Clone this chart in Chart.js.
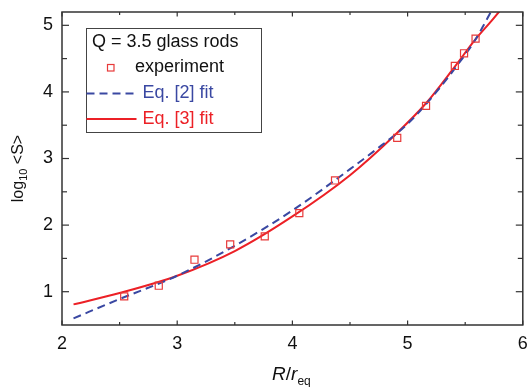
<!DOCTYPE html>
<html>
<head>
<meta charset="utf-8">
<script src="https://cdn.jsdelivr.net/npm/chart.js@4.4.0/dist/chart.umd.min.js"></script>
<style>
  html, body { margin: 0; padding: 0; background: #fff; }
</style>
</head>
<body>
<canvas id="rodsChart" width="529" height="387"></canvas>
<script>
// Dados

var expX = [2.54, 2.84, 3.15, 3.46, 3.76, 4.06, 4.37, 4.91, 5.16, 5.41, 5.49, 5.59];
var expY = [0.93, 1.09, 1.48, 1.71, 1.83, 2.18, 2.67, 3.31, 3.79, 4.39, 4.58, 4.80];

var eq2X = [2.1, 2.5, 3.0, 3.5, 4.0, 4.5, 4.7, 5.0, 5.25, 5.5, 5.58, 5.65, 5.8];
var eq2Y = [0.60, 0.89, 1.24, 1.69, 2.22, 2.84, 3.10, 3.52, 4.00, 4.56, 4.76, 4.97, 5.45];

var eq3X = [2.1, 2.5, 3.0, 3.5, 4.0, 4.5, 4.87, 5.16, 5.41, 5.58, 5.73, 5.85];
var eq3Y = [0.81, 0.98, 1.24, 1.61, 2.13, 2.75, 3.32, 3.83, 4.38, 4.77, 5.07, 5.32];

var xTicks = [2, 3, 4, 5, 6];
var xMinor = [2.5, 3.5, 4.5, 5.5];
var yTicks = [1, 2, 3, 4, 5];
var yMinor = [1.5, 2.5, 3.5, 4.5];

var legendTitle = 'Q = 3.5 glass rods';
var legendLabels = ['experiment', 'Eq. [2] fit', 'Eq. [3] fit'];

var FONTE = "'Liberation Sans', Arial, sans-serif";
var VERMELHO = 'rgb(236, 32, 38)';
var AZUL = 'rgb(58, 72, 162)';
var QUADRADO = 'rgb(232, 58, 58)';

function pontos(xs, ys) {
  return xs.map(function (x, i) { return { x: x, y: ys[i] }; });
}

// Moldura, ticks internos, títulos e legenda

function linha(ctx, x1, y1, x2, y2) {
  ctx.beginPath();
  ctx.moveTo(x1, y1);
  ctx.lineTo(x2, y2);
  ctx.stroke();
}

var molduraPlugin = {
  id: 'moldura',
  afterDraw: function (chart) {
    var ctx = chart.ctx;
    var area = chart.chartArea;
    var sx = chart.scales.x;
    var sy = chart.scales.y;

    ctx.save();
    ctx.strokeStyle = '#333';
    ctx.lineWidth = 1.5;
    ctx.strokeRect(area.left, area.top, area.right - area.left, area.bottom - area.top);

    ctx.lineWidth = 1.2;
    xTicks.concat(xMinor).forEach(function (v) {
      var px = sx.getPixelForValue(v);
      var len = xTicks.indexOf(v) >= 0 ? 4.5 : 3;
      linha(ctx, px, area.bottom, px, area.bottom - len);
      linha(ctx, px, area.top, px, area.top + len);
    });
    yTicks.concat(yMinor).forEach(function (v) {
      var py = sy.getPixelForValue(v);
      var len = yTicks.indexOf(v) >= 0 ? 7 : 5;
      linha(ctx, area.left, py, area.left + len, py);
      linha(ctx, area.right, py, area.right - len, py);
    });

    // título do eixo y: log10 <S>
    ctx.fillStyle = '#111';
    ctx.textBaseline = 'alphabetic';
    ctx.translate(23, (area.top + area.bottom) / 2);
    ctx.rotate(-Math.PI / 2);
    ctx.font = '16px ' + FONTE;
    var w1 = ctx.measureText('log').width;
    var w3 = ctx.measureText(' <S>').width;
    ctx.font = '11px ' + FONTE;
    var w2 = ctx.measureText('10').width;
    var ini = -(w1 + w2 + w3) / 2;
    ctx.font = '16px ' + FONTE;
    ctx.fillText('log', ini, 0);
    ctx.fillText(' <S>', ini + w1 + w2, 0);
    ctx.font = '11px ' + FONTE;
    ctx.fillText('10', ini + w1, 4);
    ctx.restore();

    // título do eixo x: R/r_eq
    ctx.save();
    ctx.fillStyle = '#111';
    ctx.textBaseline = 'alphabetic';
    ctx.font = 'italic 19px ' + FONTE;
    var a = ctx.measureText('R').width;
    var b = ctx.measureText('/').width;
    var c = ctx.measureText('r').width;
    ctx.font = '12px ' + FONTE;
    var d = ctx.measureText('eq').width;
    var cx = (area.left + area.right) / 2 - 1;
    var x0 = cx - (a + b + c + d) / 2;
    ctx.font = 'italic 19px ' + FONTE;
    ctx.fillText('R', x0, 380);
    ctx.font = '19px ' + FONTE;
    ctx.fillText('/', x0 + a, 380);
    ctx.font = 'italic 19px ' + FONTE;
    ctx.fillText('r', x0 + a + b, 380);
    ctx.font = '12px ' + FONTE;
    ctx.fillText('eq', x0 + a + b + c, 385);
    ctx.restore();

    // legenda
    var lx = area.left + 24.5;
    var ly = area.top + 16.5;
    ctx.save();
    ctx.fillStyle = '#fff';
    ctx.fillRect(lx, ly, 175, 104);
    ctx.strokeStyle = '#444';
    ctx.lineWidth = 1;
    ctx.strokeRect(lx, ly, 175, 104);

    ctx.textBaseline = 'middle';
    ctx.font = '18px ' + FONTE;
    ctx.fillStyle = '#111';
    ctx.fillText(legendTitle, lx + 5.5, ly + 14);

    ctx.strokeStyle = QUADRADO;
    ctx.lineWidth = 1.2;
    ctx.strokeRect(lx + 21, ly + 36, 6.5, 6.5);
    ctx.fillText(legendLabels[0], lx + 48.5, ly + 39);

    ctx.strokeStyle = AZUL;
    ctx.lineWidth = 2;
    ctx.setLineDash([8, 5]);
    linha(ctx, lx, ly + 65, lx + 50, ly + 65);
    ctx.setLineDash([]);
    ctx.fillStyle = AZUL;
    ctx.fillText(legendLabels[1], lx + 56, ly + 65);

    ctx.strokeStyle = VERMELHO;
    linha(ctx, lx, ly + 90.5, lx + 50, ly + 90.5);
    ctx.fillStyle = VERMELHO;
    ctx.fillText(legendLabels[2], lx + 56, ly + 90.5);
    ctx.restore();
  }
};

var dataRods = {
  datasets: [{
    label: legendLabels[0],
    data: pontos(expX, expY),
    showLine: false,
    pointStyle: 'rect',
    pointRadius: 5,
    pointBorderWidth: 1.2,
    pointBorderColor: QUADRADO,
    pointBackgroundColor: 'rgba(0, 0, 0, 0)',
  }, {
    label: legendLabels[1],
    data: pontos(eq2X, eq2Y),
    showLine: true,
    borderColor: AZUL,
    borderWidth: 2,
    borderDash: [8, 5],
    pointRadius: 0,
    cubicInterpolationMode: 'monotone',
    fill: false,
  }, {
    label: legendLabels[2],
    data: pontos(eq3X, eq3Y),
    showLine: true,
    borderColor: VERMELHO,
    borderWidth: 2,
    pointRadius: 0,
    cubicInterpolationMode: 'monotone',
    fill: false,
  }]
};

var options = {
  responsive: false,
  animation: false,
  layout: {
    padding: { top: 12, right: 5, left: 0, bottom: 0 },
  },
  plugins: {
    legend: { display: false },
    tooltip: { enabled: false },
  },
  scales: {
    x: {
      type: 'linear',
      min: 2,
      max: 6,
      grid: { display: false, drawTicks: false },
      border: { display: false },
      afterBuildTicks: function (scale) {
        scale.ticks = xTicks.map(function (v) { return { value: v }; });
      },
      afterFit: function (scale) {
        scale.height = 62;
        scale.paddingLeft = 0;
        scale.paddingRight = 0;
      },
      ticks: {
        padding: 8,
        color: '#111',
        maxRotation: 0,
        font: { size: 18, family: FONTE },
      },
    },
    y: {
      type: 'linear',
      min: 0.5,
      max: 5.2,
      grid: { display: false, drawTicks: false },
      border: { display: false },
      afterBuildTicks: function (scale) {
        scale.ticks = yTicks.map(function (v) { return { value: v }; });
      },
      afterFit: function (scale) {
        scale.width = 62;
        scale.paddingTop = 0;
        scale.paddingBottom = 0;
      },
      ticks: {
        padding: 9,
        color: '#111',
        font: { size: 18, family: FONTE },
      },
    },
  }
};

var configRods = {
  type: 'scatter',
  data: dataRods,
  options: options,
  plugins: [molduraPlugin]
};

var ctxRods = document.getElementById('rodsChart').getContext('2d');
var myChartRods = new Chart(ctxRods, configRods);
</script>
</body>
</html>
